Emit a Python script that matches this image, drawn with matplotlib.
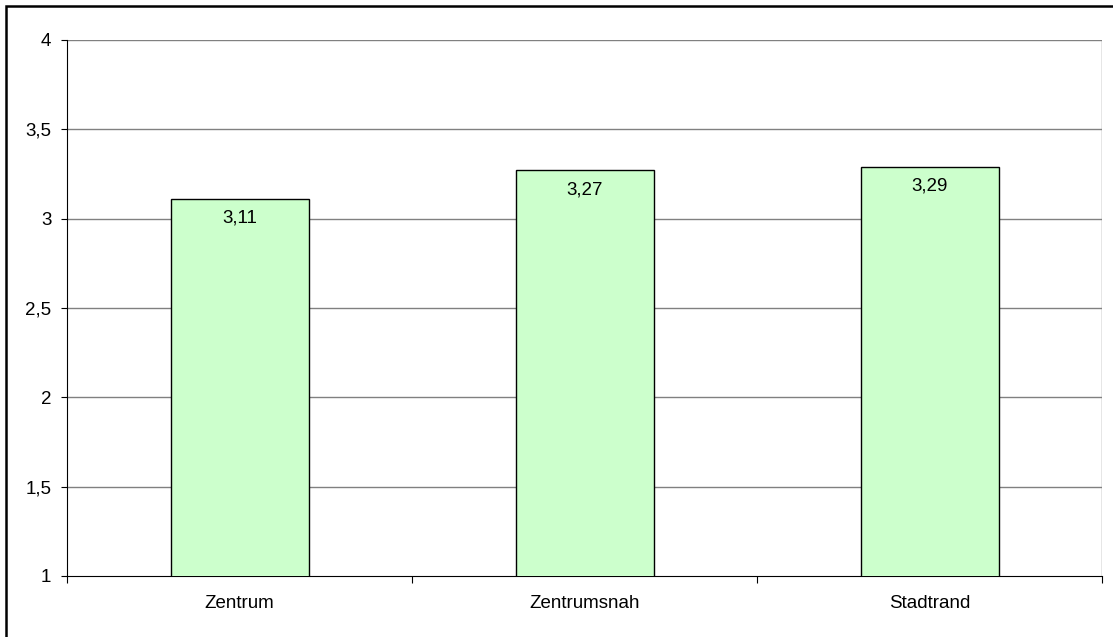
import matplotlib.pyplot as plt
from matplotlib.patches import Rectangle

# Data
categories = ['Zentrum', 'Zentrumsnah', 'Stadtrand']
values = [3.11, 3.27, 3.29]
y_ticks = [1, 1.5, 2, 2.5, 3, 3.5, 4]

plt.rcParams['font.family'] = ['Liberation Sans', 'DejaVu Sans']
FS = 13.5

W, H = 1113, 637
fig = plt.figure(figsize=(W / 100, H / 100), dpi=100)
ax = fig.add_axes([67 / W, 1 - 576 / H, (1102 - 67) / W, (576 - 40) / H])

x = range(len(categories))
ax.bar(x, values, width=0.4, bottom=0, color='#ccffcc', edgecolor='black',
       linewidth=1.0, zorder=3)

ax.set_xlim(-0.5, len(categories) - 0.5)
ax.set_ylim(1, 4)
ax.set_yticks(y_ticks)
ax.set_yticklabels([f'{t:g}'.replace('.', ',') for t in y_ticks], fontsize=FS)
for t in y_ticks[1:]:
    ax.axhline(t, color='#808080', linewidth=1.0, zorder=1)

# category ticks between groups
ax.set_xticks([i - 0.5 for i in range(len(categories) + 1)], minor=False)
ax.set_xticklabels([])
ax.set_xticks(list(x), minor=True)
ax.set_xticklabels(categories, minor=True, fontsize=FS)
ax.tick_params(axis='x', which='major', direction='out', length=5, color='black')
ax.tick_params(axis='x', which='minor', length=0, pad=14)
ax.tick_params(axis='y', direction='out', length=4.3, pad=7)

for side in ['top', 'right']:
    ax.spines[side].set_visible(False)
ax.spines['left'].set_color('black')
ax.spines['bottom'].set_color('black')
ax.axvline(len(categories) - 0.5, color='#808080', linewidth=1.0, zorder=1)

for i, v in enumerate(values):
    ax.annotate(f'{v:.2f}'.replace('.', ','), (i, v), xytext=(0, -14),
                textcoords='offset points', ha='center', va='center',
                fontsize=FS, zorder=4)

# outer frame (right and bottom edges fall outside the image)
fig.patches.append(Rectangle((6 / W, -0.05), 1.1, 1 - 6 / H + 0.05,
                             transform=fig.transFigure, fill=False,
                             edgecolor='black', linewidth=1.8))

fig.savefig('out.png', dpi=100)
